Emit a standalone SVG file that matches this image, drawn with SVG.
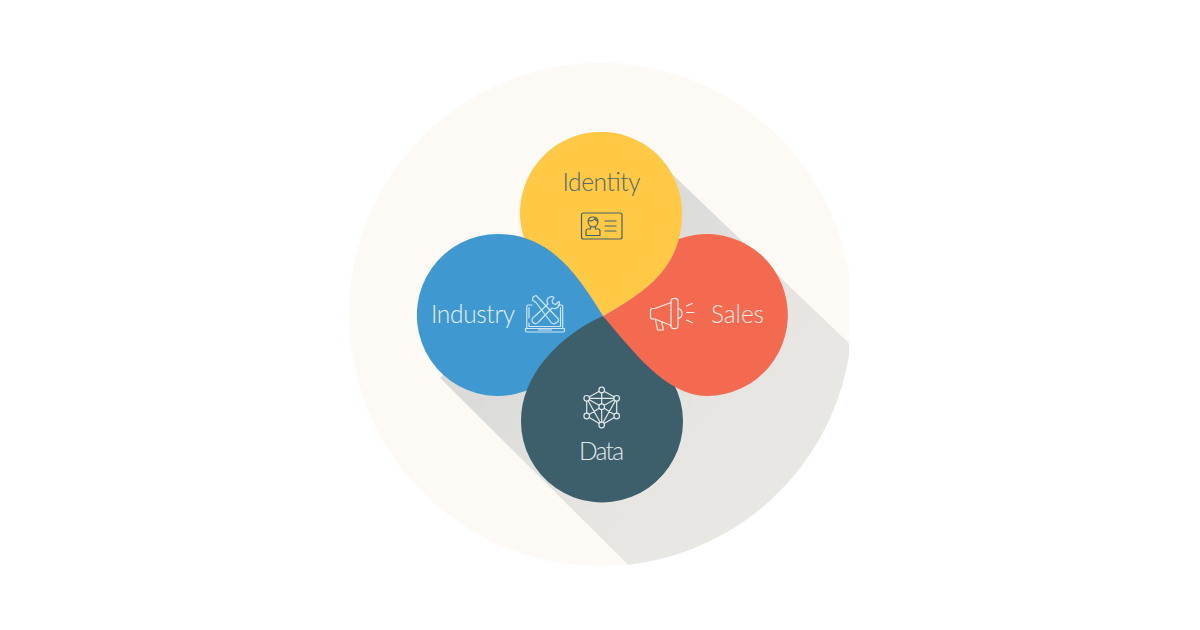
<svg xmlns="http://www.w3.org/2000/svg" width="1200" height="630" viewBox="0 0 1200 630">
<style>
.lbl{font-family:"Lato","Noto Sans","Liberation Sans",sans-serif;font-weight:300;font-size:24.500px;text-anchor:middle}
.ico{fill:none;stroke-width:1.2;stroke-linecap:round;stroke-linejoin:round}
</style>
<defs>
<clipPath id="bgClip"><path d="M349,314.500A251.500,251.500 0 0 1 600.500,63A251.500,251.500 0 0 1 849,275L849,355A251.500,251.500 0 0 1 600.500,566A251.500,251.500 0 0 1 349,314.500Z"/></clipPath>
<linearGradient id="shadow" gradientUnits="userSpaceOnUse" x1="440" y1="440" x2="600" y2="600"><stop offset="0" stop-color="#dbdbda"/><stop offset="0.7" stop-color="#e6e5e1"/><stop offset="1" stop-color="#e9e7e3"/></linearGradient>
</defs>
<g id="background">
<path d="M349,314.500A251.500,251.500 0 0 1 600.500,63A251.500,251.500 0 0 1 849,275L849,355A251.500,251.500 0 0 1 600.500,566A251.500,251.500 0 0 1 349,314.500Z" fill="#fdfaf6"/>
<g clip-path="url(#bgClip)">
<path d="M660,162.500L900,392L704,640L440,378Z" fill="url(#shadow)"/>
</g>
</g>
<g id="identity">
<path d="M682,213C682,266 648,291 603,316L549,275A81,81 0 1 1 682,213Z" fill="#ffc845"/>
<text class="lbl" x="601.500" y="191" fill="#4d6b70" textLength="78">Identity</text>
<g class="ico" stroke="#44656c" stroke-width="1.500">
<rect x="581.500" y="213" width="40.500" height="26" rx="2"/>
<path d="M588.200,221.500C588.200,218.500 590.500,217 593,217C595.500,217 597.800,218.500 597.800,221.500C597.800,225 595.500,227 593,227C590.500,227 588.200,225 588.200,221.500Z"/>
<path d="M588.500,220.500C591,221.500 593,221 595,218.500C595.500,220 596.500,221 597.800,221"/>
<path d="M590.500,227V229H587.500C586.500,229 586,230 586,231V235.500H600V231C600,230 599.500,229 598.500,229H595.500V227"/>
<path d="M605,221H616M605,226H616M605,231H616"/>
</g>
</g>
<g id="industry">
<path d="M498,234C550,234 578,275 603,316L550,377A81,81 0 1 1 498,234Z" fill="#3f98cf"/>
<text class="lbl" x="473" y="323" fill="#e4f0f7" textLength="84">Industry</text>
<g class="ico" stroke="#cfe5f3">
<path d="M532,305H528C527.300,305 526.800,305.500 526.800,306.200V328M558,305H561.500C562.200,305 562.700,305.500 562.700,306.200V328"/>
<path d="M529,318V307.500M560.500,307.500V326.500H529V323"/>
<path d="M525.500,328.500H564.500V330.500C564.500,331.500 564,332 563,332H527C526,332 525.500,331.500 525.500,330.500Z"/>
<path d="M539,328.500V330H551V328.500"/>
<path d="M533,297L536,295.500L539,298.500L556,316.500C558,318 559,320 558,321.500L555,323.500C553.500,324.500 551.500,323.500 550,321L536,302.500L532.500,300Z"/>
<path d="M554,297.500C552,296 549,296.500 547.500,299C546.500,301 547,303 548,304L534.500,316.500C532,318 531,320.500 533,322.500C535,324.500 537.500,323.500 539,321.500L552,308C554,309 556.500,308.500 558,307C559.500,305.500 560,303.500 559,301.500L555.500,304.500L553,303.500L552,301Z"/>
</g>
</g>
<g id="data">
<path d="M603,316C560,335 521,375 521,421A81,81 0 1 0 662,367Z" fill="#3c5f6b"/>
<text class="lbl" x="601.500" y="460" fill="#e3e9eb" textLength="45">Data</text>
<g class="ico" stroke="#e3e9eb">
<path d="M601.700,390L616.700,398.300V416L601.700,425L586.700,416V398.300ZM586.700,398.300H616.700M601.700,390V425M586.700,398.300L601.700,406.700L616.700,398.300M586.700,416L601.700,406.700L616.700,416M586.700,398.300L601.700,425L616.700,398.300"/>
<g fill="#3c5f6b">
<circle cx="601.700" cy="390" r="2.800"/><circle cx="586.700" cy="398.300" r="2.800"/><circle cx="616.700" cy="398.300" r="2.800"/><circle cx="586.700" cy="416" r="2.800"/><circle cx="616.700" cy="416" r="2.800"/><circle cx="601.700" cy="425" r="2.800"/><circle cx="601.700" cy="406.700" r="2.800"/>
</g>
</g>
</g>
<g id="sales">
<path d="M678.800,239A81,81 0 1 1 707,396C666,396 632,350 603,316C639.900,295.500 669.400,275 678.800,239Z" fill="#f46a51"/>
<text class="lbl" x="737.500" y="323" fill="#fde8e3" textLength="53">Sales</text>
<g class="ico" stroke="#fdf0ec" stroke-width="1.500">
<path d="M671,302.500L655,308.500H652.500C651,308.500 650.500,309.500 650.500,311V316.500C650.500,318 651,319 652.500,319H655L671,325.500"/>
<path d="M671,301C671,297.500 678,297.500 678,301V326C678,329.500 671,329.500 671,326Z"/>
<path d="M678,308.500C680.500,309 682,311 682,313.500C682,316 680.500,318 678,318.500"/>
<path d="M655.500,319.500L657.500,330H663.500L661.500,321.500"/>
<path d="M686.500,306L692.500,303.300M686.500,312.500H694M686.500,320L692.500,322.700"/>
</g>
</g>
</svg>
